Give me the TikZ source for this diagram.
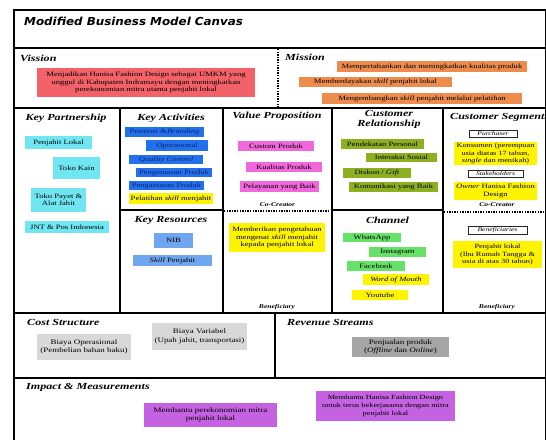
\documentclass[tikz,border=0pt]{standalone}
\usepackage{fontspec}
\setmainfont{Liberation Serif}[FakeStretch=1.3]
\newfontfamily\titlefont{DejaVu Sans}[FakeStretch=1.08]

\definecolor{visred}{RGB}{242,98,104}
\definecolor{misorange}{RGB}{238,140,78}
\definecolor{kpcyan}{RGB}{112,230,242}
\definecolor{kablue}{RGB}{34,112,236}
\definecolor{katext}{RGB}{16,34,110}
\definecolor{hiyellow}{RGB}{255,244,0}
\definecolor{krblue}{RGB}{112,166,240}
\definecolor{vppink}{RGB}{240,104,220}
\definecolor{crolive}{RGB}{140,176,32}
\definecolor{chgreen}{RGB}{102,226,104}
\definecolor{lightgray}{RGB}{216,216,216}
\definecolor{midgray}{RGB}{166,166,166}
\definecolor{impurple}{RGB}{196,98,226}

\tikzset{
  x=1pt, y=-1pt,
  frame/.style={line width=1.6pt, line cap=rect},
  dotline/.style={line width=1.8pt, dash pattern=on 1.4pt off 1.2pt},
  heading/.style={inner sep=0pt, font=\fontsize{9.3}{9.4}\selectfont\bfseries\itshape},
  titletext/.style={inner sep=0pt, font=\titlefont\fontsize{11}{12}\selectfont\bfseries\itshape},
  roletag/.style={inner sep=0pt, font=\fontsize{5.8}{6}\selectfont\bfseries\itshape},
  tb/.style={inner sep=0pt, align=center, font=\fontsize{6.6}{7.3}\selectfont},
  tbl/.style={inner sep=0pt, align=center, font=\fontsize{6.9}{8.4}\selectfont},
  tbtop/.style={inner sep=0pt, align=center, font=\fontsize{6.6}{7.1}\selectfont},
  tagbox/.style={inner sep=0pt, align=center, draw=black!85, line width=0.9pt, fill=white,
    font=\fontsize{5.8}{6}\selectfont\itshape},
}

% name, x1, y1, x2, y2, style, text
\newcommand\cellbox[7]{%
  \node[#6, minimum width={#4pt-#2pt}, minimum height={#5pt-#3pt}] (#1)
    at ({(#2+#4)/2},{(#3+#5)/2}) {#7};}

\begin{document}
\begin{tikzpicture}
\useasboundingbox[fill=white] (0,0) rectangle (546,439);

% ---- grid ----
\draw[frame] (545.5,10) -- (14,10) -- (14,445);
\draw[frame] (545.5,10) -- (545.5,445);
\draw[frame] (14,48) -- (546,48);
\draw[frame] (14,108) -- (546,108);
\draw[dotline] (278,49) -- (278,107);
\foreach \xx in {120,223,332,443} \draw[frame] (\xx,108) -- (\xx,313);
\draw[frame] (120,210) -- (223,210);
\draw[frame] (332,210) -- (443,210);
\draw[dotline] (224,211) -- (331,211);
\draw[dotline] (444,212) -- (546,212);
\draw[frame] (14,313) -- (546,313);
\draw[frame] (275,313) -- (275,378);
\draw[frame] (14,378) -- (546,378);

% ---- title and section headings ----
\node[titletext, anchor=west] (title) at (24,21) {Modified Business Model Canvas};
\node[heading, anchor=west] (hvis) at (20,58) {Vission};
\node[heading, anchor=west] (hmis) at (285,57) {Mission};
\node[heading] (hkp) at (66,118) {Key Partnership};
\node[heading] (hka) at (171,118) {Key Activities};
\node[heading] (hvp) at (277,116) {Value Proposition};
\node[heading, align=center] (hcr) at (389,119.5) {Customer\\Relationship};
\node[heading, anchor=west] (hcs) at (450,117) {Customer Segments};
\node[heading] (hkr) at (171,220) {Key Resources};
\node[heading] (hch) at (387.5,220) {Channel};
\node[heading, anchor=west] (hcost) at (27,322) {Cost Structure};
\node[heading, anchor=west] (hrev) at (287,322) {Revenue Streams};
\node[heading, anchor=west] (himp) at (26,387) {Impact \& Measurements};

\node[roletag] (cc1) at (277.5,205) {Co-Creator};
\node[roletag] (cc2) at (497,205) {Co-Creator};
\node[roletag] (bn1) at (277,307) {Beneficiary};
\node[roletag] (bn2) at (497,307) {Beneficiary};

% ---- vision and mission ----
\cellbox{vis}{37}{68}{255}{97}{tbtop, fill=visred}
  {Menjadikan Hanisa Fashion Design sebagai UMKM yang\\unggul di Kabupaten Indramayu dengan meningkatkan\\perekonomian mitra utama penjahit lokal}
\cellbox{mis1}{337}{61}{527}{72}{tbtop, fill=misorange}{Mempertahankan dan meningkatkan kualitas produk}
\cellbox{mis2}{299}{77}{452}{87}{tbtop, fill=misorange}{Memberdayakan \textit{skill} penjahit lokal}
\cellbox{mis3}{322}{93}{522}{104}{tbtop, fill=misorange}{Mengembangkan \textit{skill} penjahit melalui pelatihan}

% ---- key partnership ----
\cellbox{kp1}{25}{136}{92}{149}{tb, fill=kpcyan}{Penjahit Lokal}
\cellbox{kp2}{53}{157}{100}{179}{tb, fill=kpcyan}{Toko Kain}
\cellbox{kp3}{31}{188}{86}{212}{tb, fill=kpcyan}{Toko Payet \&\\Alat Jahit}
\cellbox{kp4}{25}{221}{109}{233}{tb, fill=kpcyan}{JNT \& Pos Indonesia}

% ---- key activities ----
\cellbox{ka1}{125}{127}{204}{137}{tb, fill=kablue, text=katext}{Promosi \&\textit{Branding}}
\cellbox{ka2}{146}{140}{208}{151}{tb, fill=kablue, text=katext}{Operasional}
\cellbox{ka3}{129}{155}{203}{164}{tb, fill=kablue, text=katext}{\textit{Quality Control}}
\cellbox{ka4}{136}{168}{212}{177}{tb, fill=kablue, text=katext}{Pengemasan Produk}
\cellbox{ka5}{129}{181}{204}{190}{tb, fill=kablue, text=katext}{Pengantaran Produk}
\cellbox{ka6}{129}{193}{213}{204}{tb, fill=hiyellow}{Pelatihan \textit{skill} menjahit}

% ---- key resources ----
\cellbox{kr1}{154}{233}{193}{248}{tb, fill=krblue}{NIB}
\cellbox{kr2}{133}{255}{212}{266}{tb, fill=krblue}{\textit{Skill} Penjahit}

% ---- value proposition ----
\cellbox{vp1}{238}{141}{314}{151}{tb, fill=vppink}{Custom Produk}
\cellbox{vp2}{246}{162}{322}{172}{tb, fill=vppink}{Kualitas Produk}
\cellbox{vp3}{240}{181}{319}{192}{tb, fill=vppink}{Pelayanan yang Baik}
\cellbox{vp4}{229}{223}{325}{252}{tb, fill=hiyellow}{Memberikan pengetahuan\\mengenai \textit{skill} menjahit\\kepada penjahit lokal}

% ---- customer relationship ----
\cellbox{cr1}{341}{139}{424}{149}{tb, fill=crolive}{Pendekatan Personal}
\cellbox{cr2}{366}{153}{437}{162}{tb, fill=crolive}{Interaksi Sosial}
\cellbox{cr3}{343}{168}{411}{178}{tb, fill=crolive}{Diskon / \textit{Gift}}
\cellbox{cr4}{349}{182}{438}{192}{tb, fill=crolive}{Komunikasi yang Baik}

% ---- channel ----
\cellbox{ch1}{343}{233}{401}{242}{tb, fill=chgreen}{WhatsApp}
\cellbox{ch2}{369}{247}{426}{257}{tb, fill=chgreen}{Instagram}
\cellbox{ch3}{347}{261}{405}{271}{tb, fill=chgreen}{Facebook}
\cellbox{ch4}{363}{274}{429}{285}{tb, fill=hiyellow}{\textit{Word of Mouth}}
\cellbox{ch5}{352}{290}{408}{300}{tb, fill=hiyellow}{Youtube}

% ---- customer segments ----
\cellbox{cs1}{469}{130.5}{517}{137.5}{tagbox}{Purchaser}
\cellbox{cs2}{454}{142}{537}{165}{tb, fill=hiyellow, font=\fontsize{6.4}{7.2}\selectfont}{Konsumen (perempuan\\usia diatas 17 tahun,\\\textit{single} dan menikah)}
\cellbox{cs3}{468}{170.5}{523}{177.5}{tagbox}{Stakeholders}
\cellbox{cs4}{454}{182}{537}{200}{tb, fill=hiyellow}{\textit{Owner} Hanisa Fashion\\Design}
\cellbox{cs5}{468}{226}{527}{234}{tagbox}{Beneficiaries}
\cellbox{cs6}{453}{241}{542}{268}{tb, fill=hiyellow, font=\fontsize{6.4}{7.2}\selectfont}{Penjahit lokal\\(Ibu Rumah Tangga \&\\usia di atas 30 tahun)}

% ---- cost structure and revenue streams ----
\cellbox{cost1}{37}{334}{131}{360}{tbl, fill=lightgray}{Biaya Operasional\\(Pembelian bahan baku)}
\cellbox{cost2}{152}{323}{247}{350}{tbl, fill=lightgray}{Biaya Variabel\\(Upah jahit, transportasi)}
\cellbox{rev1}{352}{337}{449}{357}{tbl, fill=midgray}{Penjualan produk\\(\textit{Offline} dan \textit{Online})}

% ---- impact and measurements ----
\cellbox{imp1}{144}{403}{277}{427}{tbl, fill=impurple}{Membantu perekonomian mitra\\penjahit lokal}
\cellbox{imp2}{316}{391}{455}{421}{tbl, fill=impurple, font=\fontsize{6.4}{7.8}\selectfont}{Membantu Hanisa Fashion Design\\untuk terus bekerjasama dengan mitra\\penjahit lokal}
\end{tikzpicture}
\end{document}
